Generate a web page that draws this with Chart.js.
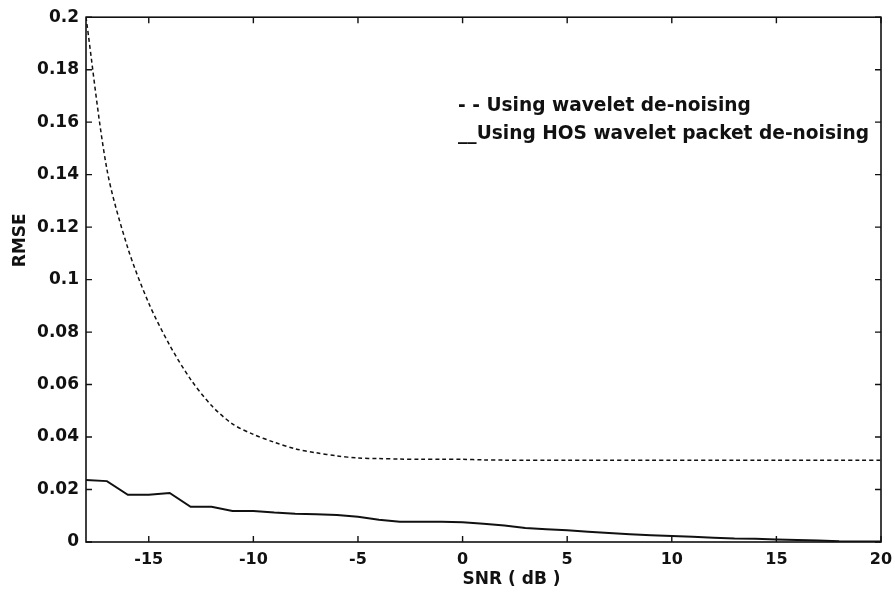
<!DOCTYPE html>
<html>
<head>
<meta charset="utf-8">
<script src="https://cdn.jsdelivr.net/npm/chart.js@4"></script>
<style>
  body { margin: 0; background: #fff; }
  #wrap { width: 895px; height: 596px; }
</style>
</head>
<body>
<div id="wrap"><canvas id="rmseChart" width="895" height="596"></canvas></div>
<script>
// SNR values (dB)
const snr = [-18,-17,-16,-15,-14,-13,-12,-11,-10,-9,-8,-7,-6,-5,-4,-3,-2,-1,0,1,2,3,4,5,6,7,8,9,10,11,12,13,14,15,16,17,18,19,20];
// dashed curve - wavelet de-noising
const waveletRmse = [0.200,0.142,0.112,0.091,0.075,0.062,0.052,0.045,0.041,0.038,0.0355,0.034,0.0328,0.032,0.0318,0.0316,0.0315,0.0315,0.0315,0.0313,0.0312,0.0312,0.0312,0.0312,0.0312,0.0312,0.0312,0.0312,0.0312,0.0312,0.0312,0.0312,0.0312,0.0312,0.0312,0.0312,0.0312,0.0312,0.0312];
// solid curve - HOS wavelet packet de-noising
const hosRmse = [0.0236,0.0232,0.018,0.018,0.0187,0.0134,0.0134,0.0118,0.0118,0.0112,0.0108,0.0106,0.0103,0.0096,0.0085,0.0077,0.0077,0.0077,0.0075,0.007,0.0063,0.0053,0.0049,0.0045,0.0039,0.0034,0.003,0.0026,0.0023,0.002,0.0016,0.0013,0.0012,0.001,0.0008,0.0006,0.0003,0.0002,0.0002];
const seriesNames = ['Using wavelet de-noising', 'Using HOS wavelet packet de-noising'];
const legendMarks = ['- - ', '__'];
const xTicks = [-15,-10,-5,0,5,10,15,20];
const yTicks = [0,0.02,0.04,0.06,0.08,0.1,0.12,0.14,0.16,0.18,0.2];
const xTitle = 'SNR ( dB )';
const yTitle = 'RMSE';

const FONT = 'DejaVu Sans';

function toPoints(vals){
    return snr.map((x, i) => ({x: x, y: vals[i]}));
}

//box, inward ticks, axis titles and text legend
const boxPlugin = {
    id: 'boxPlugin',
    afterDraw(chart){
        const ctx = chart.ctx;
        const a = chart.chartArea;
        const xs = chart.scales.x, ys = chart.scales.y;
        ctx.save();
        ctx.strokeStyle = '#111';
        ctx.lineWidth = 1.6;
        ctx.strokeRect(a.left, a.top, a.right - a.left, a.bottom - a.top);
        ctx.lineWidth = 1.4;
        ctx.beginPath();
        xTicks.forEach(v => {
            const px = xs.getPixelForValue(v);
            ctx.moveTo(px, a.bottom); ctx.lineTo(px, a.bottom - 6);
            ctx.moveTo(px, a.top); ctx.lineTo(px, a.top + 6);
        });
        yTicks.forEach(v => {
            const py = ys.getPixelForValue(v);
            ctx.moveTo(a.left, py); ctx.lineTo(a.left + 6, py);
            ctx.moveTo(a.right, py); ctx.lineTo(a.right - 6, py);
        });
        ctx.stroke();

        ctx.fillStyle = '#111';
        ctx.textBaseline = 'middle';

        // axis titles
        ctx.font = 'bold 17px "' + FONT + '"';
        ctx.textAlign = 'left';
        ctx.fillText(xTitle, xs.getPixelForValue(0), a.bottom + 38);
        ctx.save();
        ctx.translate(21, a.top + (a.bottom - a.top) * 0.425);
        ctx.rotate(-Math.PI / 2);
        ctx.textAlign = 'center';
        ctx.fillText(yTitle, 0, 0);
        ctx.restore();

        // legend text
        ctx.font = 'bold 18.6px "' + FONT + '"';
        ctx.textAlign = 'left';
        const lx = a.left + (a.right - a.left) * 0.468;
        ctx.fillText(legendMarks[0] + seriesNames[0], lx, a.top + 89);
        ctx.fillText(legendMarks[1] + seriesNames[1], lx, a.top + 117);
        ctx.restore();
    }
};

const ctx = document.getElementById('rmseChart').getContext('2d');
const rmseChart = new Chart(ctx, {
    type: 'line',
    data: {
        datasets: [{
            label: seriesNames[0],
            data: toPoints(waveletRmse),
            borderColor: '#111',
            borderWidth: 1.5,
            borderDash: [4, 3],
            pointRadius: 0,
            tension: 0.3
        }, {
            label: seriesNames[1],
            data: toPoints(hosRmse),
            borderColor: '#111',
            borderWidth: 2,
            pointRadius: 0,
            tension: 0
        }]
    },
    options: {
        responsive: false,
        animation: false,
        devicePixelRatio: 1,
        layout: { padding: { top: 15, right: 14, left: 0, bottom: 0 } },
        plugins: {
            legend: { display: false },
            tooltip: { enabled: false }
        },
        scales: {
            x: {
                type: 'linear',
                min: -18,
                max: 20,
                grid: { display: false, drawTicks: true, tickLength: 8 },
                border: { display: false },
                afterBuildTicks: (s) => { s.ticks = xTicks.map(v => ({value: v})); },
                afterFit: (s) => { s.height = 54; },
                ticks: {
                    color: '#111',
                    padding: 0,
                    maxRotation: 0,
                    font: { family: FONT, size: 16, weight: 'bold' }
                }
            },
            y: {
                min: 0,
                max: 0.2,
                grid: { display: false, drawTicks: false },
                border: { display: false },
                afterBuildTicks: (s) => { s.ticks = yTicks.map(v => ({value: v})); },
                afterFit: (s) => { s.width = 86; },
                ticks: {
                    color: '#111',
                    padding: 7,
                    font: { family: FONT, size: 17, weight: 'bold' },
                    callback: (v) => v === 0 ? '0' : String(+v.toFixed(2))
                }
            }
        }
    },
    plugins: [boxPlugin]
});
</script>
</body>
</html>
